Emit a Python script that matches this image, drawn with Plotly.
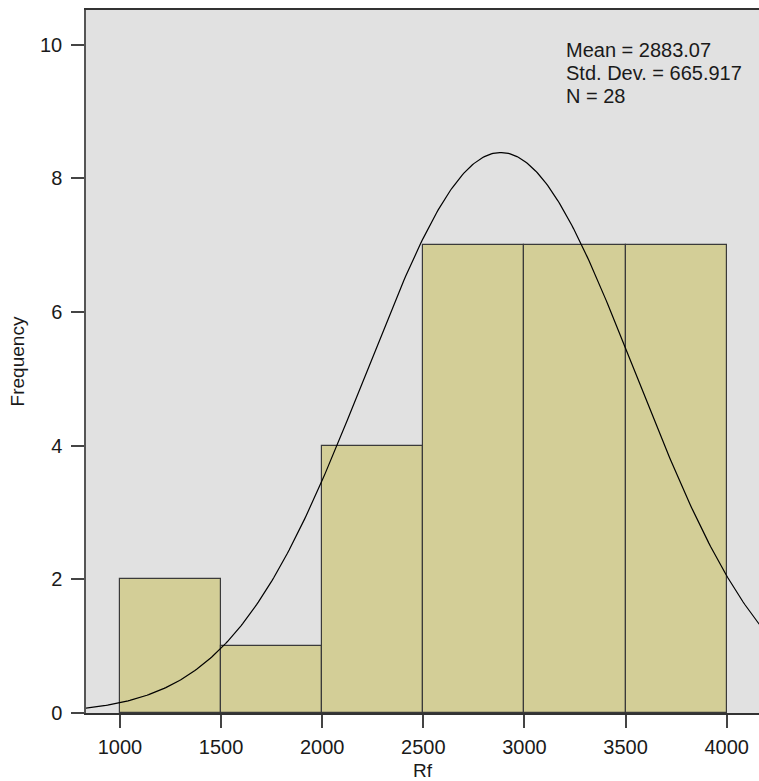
import numpy as np
import plotly.graph_objects as go

bin_left = [1000, 1500, 2000, 2500, 3000, 3500]
bin_width = 500
counts = [2, 1, 4, 7, 7, 7]
mean_val = 2883.07
std_val = 665.917
n_val = 28
x_ticks = [1000, 1500, 2000, 2500, 3000, 3500, 4000]
y_ticks = [0, 2, 4, 6, 8, 10]
stat_lines = [f"Mean = {mean_val}", f"Std. Dev. = {std_val}", f"N = {n_val}"]

centers = [b + bin_width / 2 for b in bin_left]

xs = np.linspace(820, 4200, 400)
ys = n_val * bin_width / (std_val * np.sqrt(2 * np.pi)) * np.exp(-0.5 * ((xs - mean_val) / std_val) ** 2)

fig = go.Figure()
fig.add_trace(go.Bar(x=centers, y=counts, width=bin_width,
                     marker=dict(color="#D3CE97", line=dict(color="#3a3a3a", width=1.2)),
                     showlegend=False, hoverinfo="skip"))
fig.add_trace(go.Scatter(x=xs, y=ys, mode="lines", line=dict(color="black", width=1.2),
                         showlegend=False, hoverinfo="skip"))

W, H = 759, 781
ml, mt, mb = 86, 10, 68
plot_h = H - mt - mb
plot_w = W - ml
for i, line in enumerate(stat_lines):
    y_px = 50 + 23 * i
    fig.add_annotation(
        x=(564 - ml) / plot_w, y=1 - (y_px - mt) / plot_h, xref="paper", yref="paper",
        xanchor="left", yanchor="middle", showarrow=False, text=line,
        font=dict(family="Liberation Sans, Arial", size=20, color="#1a1a1a"))

fig.update_layout(
    width=W, height=H,
    margin=dict(l=ml, r=0, t=mt, b=mb),
    plot_bgcolor="#E1E1E1", paper_bgcolor="white",
    font=dict(family="Liberation Sans, Arial", size=20, color="#1a1a1a"),
    bargap=0,
    xaxis=dict(range=[832, 4160], tickvals=x_ticks, ticks="outside", ticklen=13,
               tickcolor="#444", tickwidth=1.5, showgrid=False, zeroline=False,
               showline=True, linecolor="#333", linewidth=1.5, mirror=True,
               ticklabelstandoff=2,
               title=dict(text="Rf", standoff=8, font=dict(size=19))),
    yaxis=dict(range=[0, 10.52], tickvals=y_ticks, ticks="outside", ticklen=13,
               tickcolor="#444", tickwidth=1.5, showgrid=False, zeroline=False,
               showline=True, linecolor="#555", linewidth=1.5,
               ticklabelstandoff=5,
               title=dict(text="Frequency", standoff=10, font=dict(size=19))),
)
fig.write_html("out.html", config={"displayModeBar": False},
               post_script="document.body.style.margin='0';document.body.style.overflow='hidden';")
